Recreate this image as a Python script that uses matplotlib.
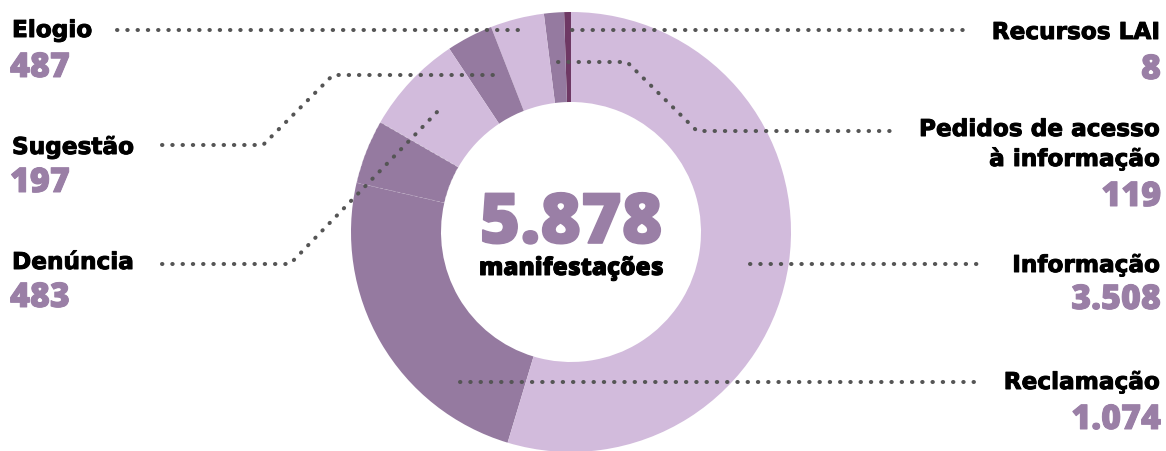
import matplotlib.pyplot as plt
import matplotlib.patheffects as pe

# dados do anel
labels = ["Recursos LAI", "Pedidos de acesso\nà informação", "Elogio", "Sugestão",
          "Denúncia", "", "Reclamação", "Informação"]
counts = ["8", "119", "487", "197", "483", "", "1.074", "3.508"]
# fatia de cada setor no anel, em graus, anti-horário a partir do topo
ring_share = [1.8, 5.3, 14.2, 12.3, 26.5, 17.0, 86.2, 196.8]
ring_colors = ["#6e3864", "#957aa0", "#d2bbdc", "#957aa0",
               "#d2bbdc", "#957aa0", "#957aa0", "#d2bbdc"]
total_txt = "5.878"

W, H = 1166, 452
NUM = "#9a7fa6"
DOT = "#555555"

fig = plt.figure(figsize=(W / 100, H / 100), dpi=100)
ax = fig.add_axes([0, 0, 1, 1])

# eixo y invertido (coordenadas em pixels) -> sentido horário nos dados
wedges, _ = ax.pie(ring_share, colors=ring_colors, startangle=-90, counterclock=False,
                   center=(571, 233), radius=220,
                   wedgeprops=dict(width=90, linewidth=0))
wedges[5].set_edgecolor((1, 1, 1, 0.35))
wedges[5].set_linewidth(0.6)
wedges[5].set_linestyle((0, (4, 3)))

ax.set_xlim(0, W)
ax.set_ylim(H, 0)
ax.set_aspect("equal")
ax.axis("off")

dot_style = dict(color=DOT, lw=2.9, linestyle=(0, (0.1, 2.45)),
                 dash_capstyle="round", solid_capstyle="round")

# linhas de chamada (x, y em pixels)
leaders = {
    "Elogio": ([117, 520], [31, 31]),
    "Sugestão": ([162, 263, 333, 493], [146, 146, 76, 76]),
    "Denúncia": ([162, 290, 438], [265, 265, 112]),
    "Recursos LAI": ([572, 972], [31, 31]),
    "Pedidos": ([558, 627, 697, 895], [63, 63, 132, 132]),
    "Informação": ([750, 983], [265, 265]),
    "Reclamação": ([460, 978], [383, 383]),
}
for xs, ys in leaders.values():
    ax.plot(xs, ys, **dot_style)

# contorno fino para engrossar o texto
thick_k = [pe.withStroke(linewidth=0.7, foreground="black")]
thick_p = [pe.withStroke(linewidth=0.7, foreground=NUM)]

lab_kw = dict(family="DejaVu Sans", fontweight="bold", fontsize=16.7, color="black",
              va="baseline", path_effects=thick_k)
num_kw = dict(family="Open Sans", fontweight=800, fontsize=24.5, color=NUM, va="baseline",
              path_effects=thick_p)

# lado esquerdo
left = [("Elogio", "487", 38, 78), ("Sugestão", "197", 155, 193),
        ("Denúncia", "483", 270, 308)]
for name, val, y1, y2 in left:
    ax.text(12, y1, name, ha="left", **lab_kw)
    ax.text(10, y2, val, ha="left", **num_kw)

# lado direito
ax.text(1160, 40, labels[0], ha="right", **lab_kw)
ax.text(1161, 80, counts[0], ha="right", **num_kw)
ax.text(1160, 137, "Pedidos de acesso", ha="right", **lab_kw)
ax.text(1160, 167, "à informação", ha="right", **lab_kw)
ax.text(1161, 207, counts[1], ha="right", **num_kw)
ax.text(1160, 273, labels[7], ha="right", **lab_kw)
ax.text(1161, 310, counts[7], ha="right", **num_kw)
ax.text(1160, 390, labels[6], ha="right", **lab_kw)
ax.text(1161, 430, counts[6], ha="right", **num_kw)

# centro
ax.text(571, 244, total_txt, ha="center", va="baseline", family="Open Sans",
        fontweight=800, fontsize=50, color=NUM,
        path_effects=[pe.withStroke(linewidth=1.2, foreground=NUM)])
ax.text(571, 276, "manifestações", ha="center", va="baseline", family="Open Sans",
        fontweight=800, fontsize=17.5, color="black", path_effects=thick_k)

fig.savefig("out.png", dpi=100)
